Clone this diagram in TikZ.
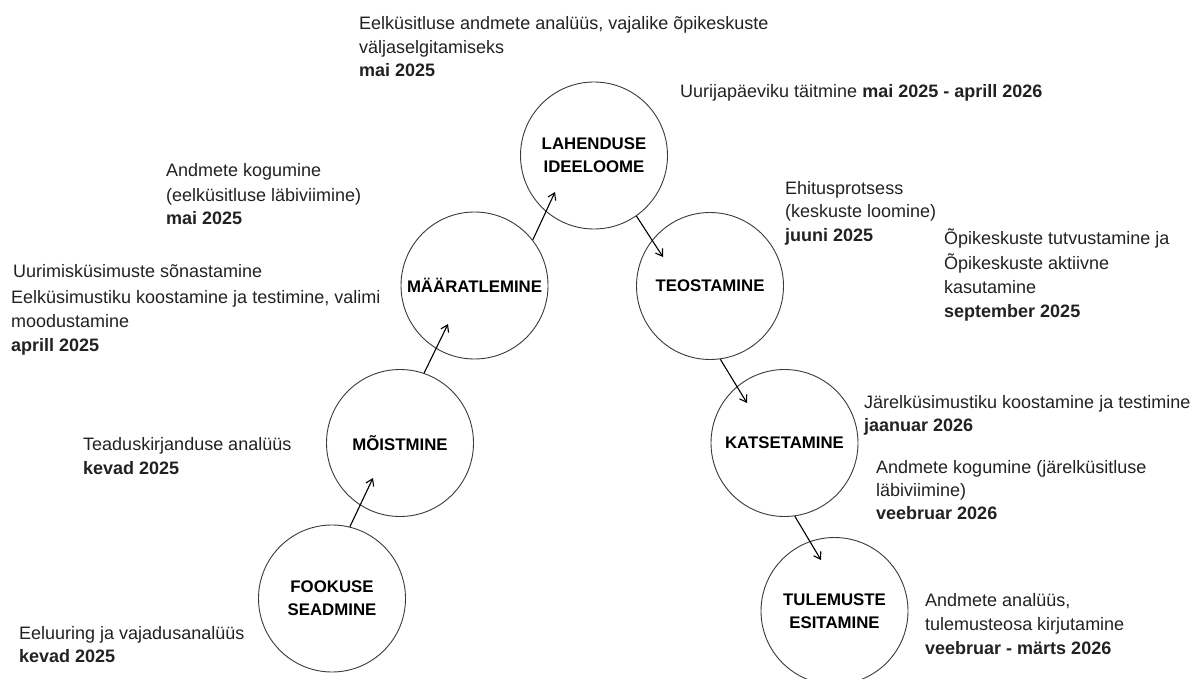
\documentclass[tikz,border=0pt]{standalone}
\usepackage{fontspec}
\setmainfont{Liberation Sans}
\usetikzlibrary{arrows.meta}
\definecolor{ink}{HTML}{222222}
\definecolor{edge}{HTML}{3A3A3A}
\begin{document}
\begin{tikzpicture}[x=1pt,y=-1pt,
  stage/.style={circle, draw=edge, line width=0.9pt, minimum size=147pt, inner sep=0pt, align=center,
    font=\fontsize{16.8}{23}\selectfont\bfseries, text=black},
  lbl/.style={anchor=base west, inner sep=0pt, font=\fontsize{18}{24}\selectfont, text=ink},
  arr/.style={draw=black, line width=1.1pt, -{Straight Barb[length=6.5pt,width=8.5pt]}}]
\useasboundingbox (0,0) rectangle (1196,679);
\fill[white] (0,0) rectangle (1196,679);

% stages
\node[stage] (fok) at (332,598.5) {FOOKUSE\\SEADMINE};
\node[stage] (moi) at (400,443) {MÕISTMINE};
\node[stage] (maa) at (474.5,285.5) {MÄÄRATLEMINE};
\node[stage] (lah) at (594,155.5) {LAHENDUSE\\IDEELOOME};
\node[stage] (teo) at (710,286) {TEOSTAMINE};
\node[stage] (kat) at (784.5,443) {KATSETAMINE};
\node[stage] (tul) at (834.5,611) {TULEMUSTE\\ESITAMINE};

% connectors
\coordinate (e1) at (373,478);
\coordinate (e2) at (448,324);
\coordinate (e3) at (555,192);
\coordinate (e4) at (663,257);
\coordinate (e5) at (747,403);
\coordinate (e6) at (821,560);
\draw[arr] (fok.76) -- (e1);
\draw[arr] (moi.71) -- (e2);
\draw[arr] (maa.38) -- (e3);
\draw[arr] (lah.-55) -- (e4);
\draw[arr] (teo.-82) -- (e5);
\draw[arr] (kat.-82) -- (e6);

% labels
\node[lbl] (a1) at (359,30) {Eelküsitluse andmete analüüs, vajalike õpikeskuste};
\node[lbl] (a2) at (359,54) {väljaselgitamiseks};
\node[lbl] (a3) at (359,77) {\bfseries mai 2025};

\node[lbl] (b1) at (680,98) {Uurijapäeviku täitmine \textbf{mai 2025 - aprill 2026}};

\node[lbl] (c1) at (166,177) {Andmete kogumine};
\node[lbl] (c2) at (166,201) {(eelküsitluse läbiviimine)};
\node[lbl] (c3) at (166,225) {\bfseries mai 2025};

\node[lbl] (d1) at (785,194) {Ehitusprotsess};
\node[lbl] (d2) at (785,218) {(keskuste loomine)};
\node[lbl] (d3) at (785,241) {\bfseries juuni 2025};

\node[lbl] (f1) at (944,244) {Õpikeskuste tutvustamine ja};
\node[lbl] (f2) at (944,269) {Õpikeskuste aktiivne};
\node[lbl] (f3) at (944,293) {kasutamine};
\node[lbl] (f4) at (944,317) {\bfseries september 2025};

\node[lbl] (g1) at (13,277) {Uurimisküsimuste sõnastamine};
\node[lbl] (g2) at (11,303) {Eelküsimustiku koostamine ja testimine, valimi};
\node[lbl] (g3) at (11,327) {moodustamine};
\node[lbl] (g4) at (11,351) {\bfseries aprill 2025};

\node[lbl] (h1) at (83,450) {Teaduskirjanduse analüüs};
\node[lbl] (h2) at (83,474) {\bfseries kevad 2025};

\node[lbl] (i1) at (864,408) {Järelküsimustiku koostamine ja testimine};
\node[lbl] (i2) at (864,431) {\bfseries jaanuar 2026};

\node[lbl] (j1) at (876,473) {Andmete kogumine (järelküsitluse};
\node[lbl] (j2) at (876,496) {läbiviimine)};
\node[lbl] (j3) at (876,519) {\bfseries veebruar 2026};

\node[lbl] (k1) at (925,606) {Andmete analüüs,};
\node[lbl] (k2) at (925,630) {tulemusteosa kirjutamine};
\node[lbl] (k3) at (925,654) {\bfseries veebruar - märts 2026};

\node[lbl] (l1) at (19,639) {Eeluuring ja vajadusanalüüs};
\node[lbl] (l2) at (19,662) {\bfseries kevad 2025};
\end{tikzpicture}
\end{document}
